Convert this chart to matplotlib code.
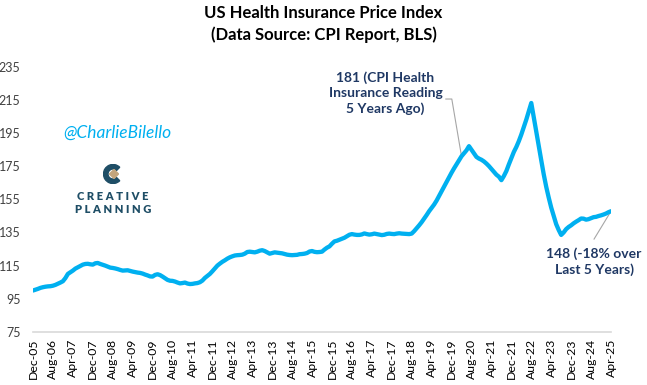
import numpy as np
import matplotlib.pyplot as plt
from matplotlib.patches import Wedge, Polygon

# monthly index, Dec-05 .. Apr-25 (Dec 2005 = 100)
y2005 = [100.0]
y2006 = [100.5, 101.0, 101.6, 102.0, 102.3, 102.5, 102.6, 102.9, 103.4, 104.1, 104.8, 105.6]
y2007 = [107.5, 110.0, 111.0, 112.0, 113.2, 114.0, 114.8, 115.6, 116.0, 116.1, 115.8, 115.6]
y2008 = [116.4, 116.6, 116.0, 115.5, 115.0, 114.4, 113.8, 113.6, 113.3, 112.9, 112.4, 112.0]
y2009 = [112.1, 112.2, 111.8, 111.4, 111.1, 110.8, 110.6, 110.2, 109.6, 109.1, 108.5, 108.4]
y2010 = [109.4, 109.8, 109.3, 108.4, 107.4, 106.4, 105.9, 105.8, 105.4, 104.8, 104.3, 104.5]
y2011 = [104.8, 104.2, 103.9, 104.0, 104.3, 104.5, 105.0, 106.0, 107.6, 108.8, 110.0, 111.6]
y2012 = [113.3, 115.0, 116.2, 117.3, 118.2, 119.2, 120.0, 120.6, 121.1, 121.3, 121.4, 121.6]
y2013 = [122.2, 123.2, 123.4, 123.2, 123.0, 123.4, 124.0, 124.3, 123.8, 123.0, 122.2, 122.6]
y2014 = [123.0, 122.8, 122.6, 122.4, 122.0, 121.6, 121.4, 121.3, 121.4, 121.5, 121.9, 122.0]
y2015 = [122.2, 122.6, 123.5, 123.8, 123.3, 123.1, 123.2, 123.4, 124.7, 125.8, 126.6, 128.2]
y2016 = [129.6, 130.0, 130.6, 131.2, 131.8, 132.7, 133.6, 134.0, 133.7, 133.5, 133.5, 133.8]
y2017 = [134.4, 134.0, 133.7, 133.9, 134.3, 134.0, 133.7, 133.4, 133.6, 134.1, 134.3, 134.1]
y2018 = [134.0, 134.3, 134.5, 134.3, 134.2, 134.1, 134.0, 134.3, 135.8, 137.5, 139.3, 141.2]
y2019 = [143.3, 145.5, 147.8, 149.8, 151.8, 154.2, 157.0, 159.8, 162.6, 165.4, 168.2, 171.0]
y2020 = [173.6, 176.0, 178.4, 180.9, 182.7, 184.5, 187.0, 184.8, 182.5, 180.5, 179.5, 178.8]
y2021 = [177.8, 176.5, 175.0, 173.3, 171.5, 169.8, 168.6, 166.5, 169.0, 172.0, 176.0, 179.8]
y2022 = [183.5, 186.5, 190.0, 194.0, 198.5, 203.0, 208.0, 213.0, 204.5, 195.8, 187.0, 178.5]
y2023 = [170.0, 162.5, 156.0, 150.0, 145.0, 140.0, 136.5, 133.5, 135.0, 137.0, 138.3, 139.3]
y2024 = [140.5, 141.5, 142.4, 143.4, 143.3, 142.7, 143.0, 143.6, 144.2, 144.4, 144.9, 145.3]
y2025 = [145.8, 146.4, 147.2, 147.8]

tick_labels = ["Dec-05", "Aug-06", "Apr-07", "Dec-07", "Aug-08", "Apr-09", "Dec-09",
               "Aug-10", "Apr-11", "Dec-11", "Aug-12", "Apr-13", "Dec-13", "Aug-14",
               "Apr-15", "Dec-15", "Aug-16", "Apr-17", "Dec-17", "Aug-18", "Apr-19",
               "Dec-19", "Aug-20", "Apr-21", "Dec-21", "Aug-22", "Apr-23", "Dec-23",
               "Aug-24", "Apr-25"]
y_ticks = [75, 95, 115, 135, 155, 175, 195, 215, 235]

vals = np.array(y2005 + y2006 + y2007 + y2008 + y2009 + y2010 + y2011 + y2012 + y2013
                + y2014 + y2015 + y2016 + y2017 + y2018 + y2019 + y2020 + y2021 + y2022
                + y2023 + y2024 + y2025)
months = np.arange(len(vals))

plt.rcParams['font.family'] = ['Lato', 'DejaVu Sans']
navy = '#1f3864'
blue = '#00b0f0'

fig = plt.figure(figsize=(6.47, 3.85), dpi=100)
ax = fig.add_axes([33 / 647, 1 - 332 / 385, 578 / 647, 265.5 / 385])
ax.plot(months, vals, color=blue, lw=3.1, solid_capstyle='round', zorder=3)

ax.set_xlim(0, len(vals) - 1)
ax.set_ylim(75, 235)
ax.set_yticks(y_ticks)
ax.set_yticklabels([str(t) for t in y_ticks], fontsize=9, color='#404040')
ax.set_xticks(np.arange(0, len(vals), 8))
ax.set_xticklabels(tick_labels, rotation=90, fontsize=8.8, color='#000000')
ax.tick_params(axis='y', length=0, pad=9)
ax.tick_params(axis='x', length=0, pad=5)
for s in ['top', 'right', 'left']:
    ax.spines[s].set_visible(False)
ax.spines['bottom'].set_color('#d9d9d9')
ax.spines['bottom'].set_linewidth(1.2)

fig.text(0.5, 1 - 13 / 385, "US Health Insurance Price Index", ha='center', va='center',
         fontsize=12, fontweight='bold')
fig.text(0.5, 1 - 35 / 385, "(Data Source: CPI Report, BLS)", ha='center', va='center',
         fontsize=12, fontweight='bold')

# annotations
ax.text(141.5, 219, "181 (CPI Health\nInsurance Reading\n5 Years Ago)", ha='center',
        va='center', fontsize=10, fontweight='bold', color=navy, linespacing=1.3)
ax.plot([165.7, 168.1, 172], [215.4, 215.4, vals[172]], color='#a6a6a6', lw=0.8, zorder=2)

ax.text(225.2, 117.5, "148 (-18% over\nLast 5 Years)", ha='center', va='center',
        fontsize=10, fontweight='bold', color=navy, linespacing=1.3)
ax.plot([225.2, 232], [131, vals[232]], color='#a6a6a6', lw=0.8, zorder=2)

# watermark / logo
fig.text(117 / 647, 1 - 133 / 385, "@CharlieBilello", ha='center', va='center',
         fontsize=12.5, style='italic', color=blue)
fig.text(113 / 647, 1 - 197 / 385, "C R E A T I V E", ha='center', va='center',
         fontsize=8, fontweight='heavy', color='#1f4e66')
fig.text(113 / 647, 1 - 209.5 / 385, "P L A N N I N G", ha='center', va='center',
         fontsize=8, fontweight='heavy', color='#1f4e66')
iax = fig.add_axes([103 / 647, 1 - 184 / 385, 20 / 647, 20 / 385])
iax.set_aspect('equal')
iax.set_xlim(-1, 1)
iax.set_ylim(-1, 1)
iax.axis('off')
iax.add_patch(Wedge((0, 0), 0.95, 45, 315, width=0.45, color='#1f4e66'))
iax.add_patch(Polygon([(0.1, 0.45), (0.55, 0), (0.1, -0.45), (-0.35, 0)], color='#c4a57c'))

fig.savefig('out.png', dpi=100)
